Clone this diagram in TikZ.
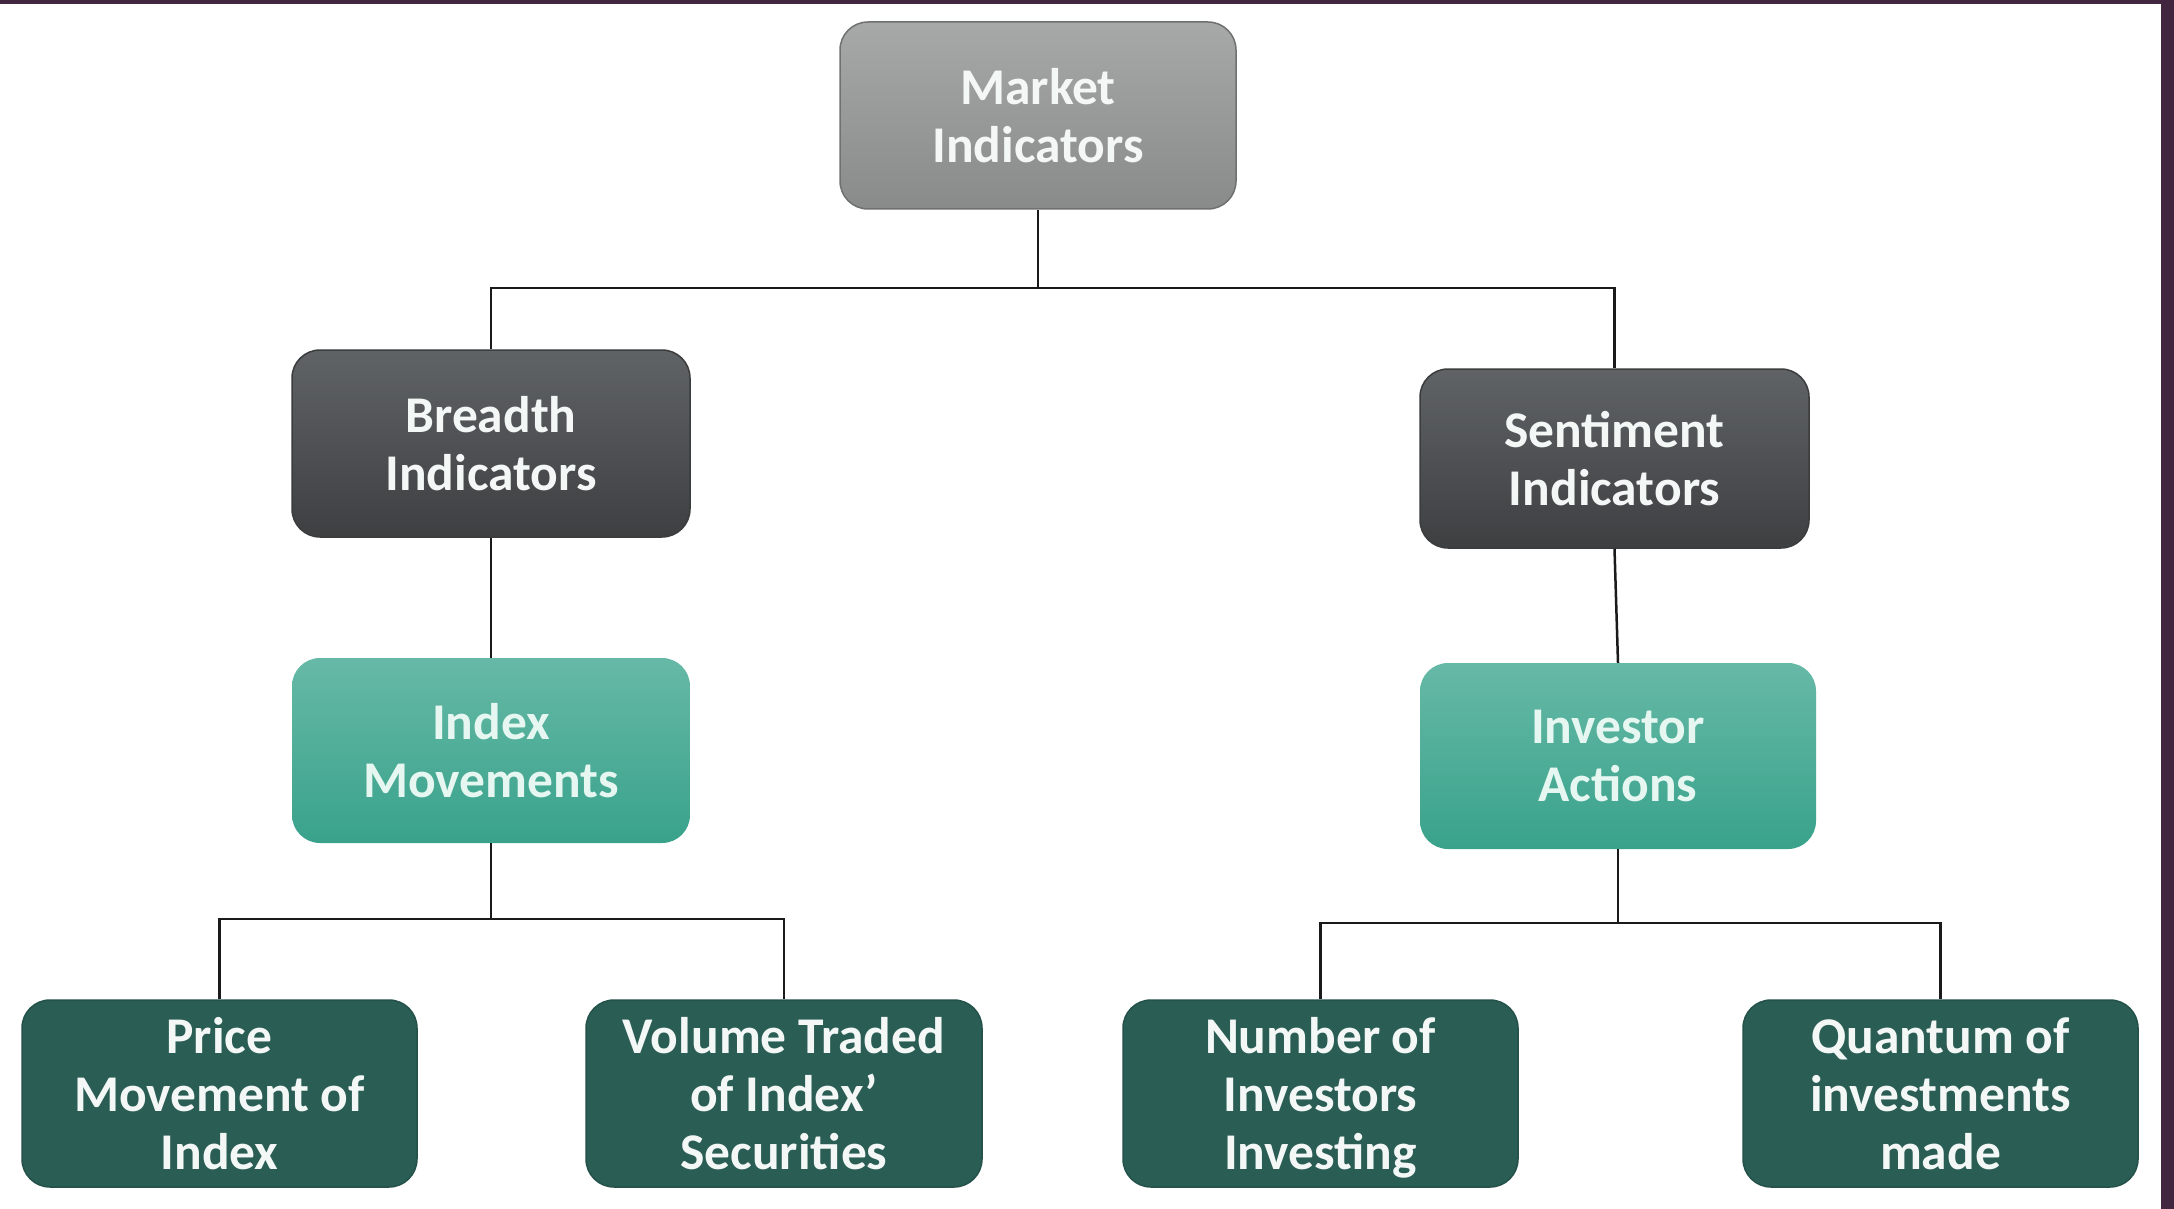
\documentclass[tikz,border=0pt]{standalone}
\usepackage{fontspec}
\setmainfont{Carlito}
\definecolor{frame}{HTML}{42263F}
\definecolor{midtop}{HTML}{A6A9A8}
\definecolor{midbot}{HTML}{898B8A}
\definecolor{midline}{HTML}{6F7170}
\definecolor{darktop}{HTML}{606365}
\definecolor{darkbot}{HTML}{3D3F41}
\definecolor{darkline}{HTML}{3A3C3D}
\definecolor{tealtop}{HTML}{66B9A6}
\definecolor{tealbot}{HTML}{39A28B}
\definecolor{leaf}{HTML}{2A5D54}
\definecolor{leafline}{HTML}{24514A}
\definecolor{txt}{HTML}{F3F7F6}
\definecolor{tealtxt}{HTML}{E6F7F2}
\definecolor{conncol}{HTML}{1A1A1A}
\begin{document}
\begin{tikzpicture}[x=1pt,y=-1pt,
  box/.style={rectangle, rounded corners=28pt, inner sep=0pt, align=center,
    font=\bfseries\fontsize{51.5}{58}\selectfont, text=txt},
  midbox/.style={box, top color=midtop, bottom color=midbot, draw=midline, line width=1.5pt},
  darkbox/.style={box, top color=darktop, bottom color=darkbot, draw=darkline, line width=1.5pt},
  tealbox/.style={box, top color=tealtop, bottom color=tealbot, text=tealtxt},
  leafbox/.style={box, fill=leaf, draw=leafline, line width=1.5pt},
  conn/.style={draw=conncol, line width=2.5pt}]
\useasboundingbox (0,0) rectangle (2174,1209);
\fill[white] (0,0) rectangle (2174,1209);
\fill[frame] (0,0) rectangle (2174,4);
\fill[frame] (2161,0) rectangle (2174,1209);

\node[midbox, minimum width=396pt, minimum height=187pt] (mi) at (1038,115.5) {Market\\Indicators};
\node[darkbox, minimum width=398pt, minimum height=187pt] (bi) at (491,443.5) {Breadth\\Indicators};
\node[darkbox, minimum width=389pt, minimum height=179pt] (si) at (1614.5,458.5) {Sentiment\\Indicators};
\node[tealbox, minimum width=398pt, minimum height=185pt] (im) at (491,750.5) {Index\\Movements};
\node[tealbox, minimum width=396pt, minimum height=186pt] (ia) at (1618,756) {Investor\\Actions};
\node[leafbox, minimum width=395pt, minimum height=187pt] (pm) at (219.5,1093.5) {Price\\Movement of\\Index};
\node[leafbox, minimum width=396pt, minimum height=187pt] (vt) at (784,1093.5) {Volume Traded\\of Index’\\Securities};
\node[leafbox, minimum width=395pt, minimum height=187pt] (ni) at (1320.5,1093.5) {Number of\\Investors\\\raisebox{0pt}[\height][0pt]{Investing}};
\node[leafbox, minimum width=395pt, minimum height=187pt] (qi) at (1940.5,1093.5) {Quantum of\\investments\\made};

\coordinate (j1) at (1038,288);
\coordinate (j2) at (491,919);
\coordinate (j3) at (1618,923);

\draw[conn] (mi.south) -- (j1);
\draw[conn] (bi.north) |- (j1) -| (si.north);
\draw[conn] (bi.south) -- (im.north);
\draw[conn] (si.south) -- (ia.north);
\draw[conn] (im.south) -- (j2);
\draw[conn] (pm.north) |- (j2) -| (vt.north);
\draw[conn] (ia.south) -- (j3);
\draw[conn] (ni.north) |- (j3) -| (qi.north);
\end{tikzpicture}
\end{document}
